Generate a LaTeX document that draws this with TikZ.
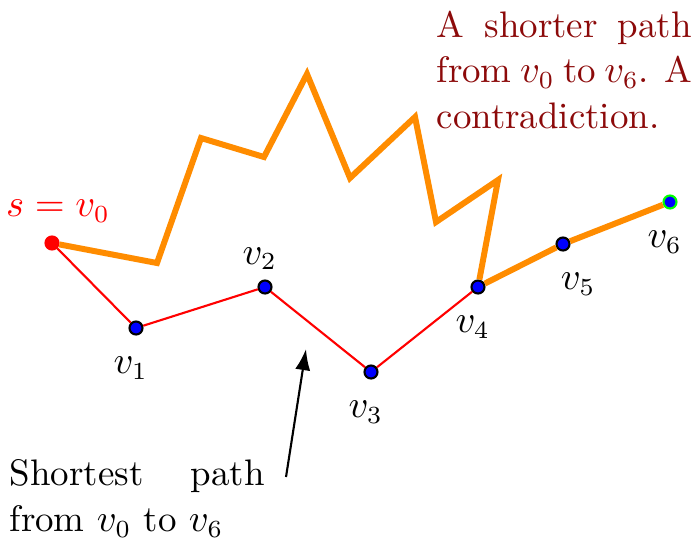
\documentclass[tikz,border=0pt]{standalone}
\usepackage{amsmath}
\usetikzlibrary{arrows.meta, positioning}
\definecolor{pathorange}{RGB}{255,140,0}
\definecolor{notered}{rgb}{0.55,0.04,0.04}

\begin{document}
\fontsize{10.5}{13}\selectfont
\begin{tikzpicture}[
  x=0.01cm, y=-0.01cm,
  vertex/.style={circle, draw, fill=blue, inner sep=0pt, minimum size=3.7pt, line width=0.6pt},
  lbl/.style={label distance=2.5pt, xshift=-1.5pt},
  short/.style={red, line width=0.6pt},
  longer/.style={pathorange, line width=1.7pt},
  note/.style={text width=2.55cm, align=justify, inner sep=0pt, anchor=north west},
  arr/.style={-{Latex[length=6pt, width=4.3pt]}, line width=0.6pt}
]
  \useasboundingbox (0,0) rectangle (694,538);

  % vertices of the shortest path
  \node[vertex, fill=red, draw=red, label={[red, label distance=0pt, xshift=1.7pt]above:$s=v_0$}] (v0) at (52,243) {};
  \node[vertex, label={[lbl]below:$v_1$}] (v1) at (136,328) {};
  \node[vertex, label={[label distance=-1pt, xshift=-1.5pt]above:$v_2$}] (v2) at (265,287) {};
  \node[vertex, label={[lbl]below:$v_3$}] (v3) at (371,372) {};
  \node[vertex, label={[lbl]below:$v_4$}] (v4) at (478,287) {};
  \node[vertex, label={[label distance=2.5pt, xshift=4.3pt]below:$v_5$}] (v5) at (563,244) {};
  \node[vertex, draw=green, label={[lbl]below:$v_6$}] (v6) at (670,202) {};

  % detour
  \coordinate (d1) at (157,263);
  \coordinate (d2) at (201,138);
  \coordinate (d3) at (264,157);
  \coordinate (d4) at (307,74);
  \coordinate (d5) at (350,178);
  \coordinate (d6) at (415,117);
  \coordinate (d7) at (436,222);
  \coordinate (d8) at (498,180);

  \draw[short] (v0) -- (v1) -- (v2) -- (v3) -- (v4);
  \draw[longer] (v0) -- (d1) -- (d2) -- (d3) -- (d4) -- (d5) -- (d6) -- (d7) -- (d8) -- (v4) -- (v5) -- (v6);

  \node[note, text=notered] (contra) at (436,10) {A shorter path from $v_0$ to $v_6$. A contradiction.};
  \node[note] (shortest) at (9,459) {Shortest path from $v_0$ to $v_6$};

  \coordinate (tail) at (286,477);
  \coordinate (tip) at (306,349);
  \draw[arr] (tail) -- (tip);
\end{tikzpicture}
\end{document}
